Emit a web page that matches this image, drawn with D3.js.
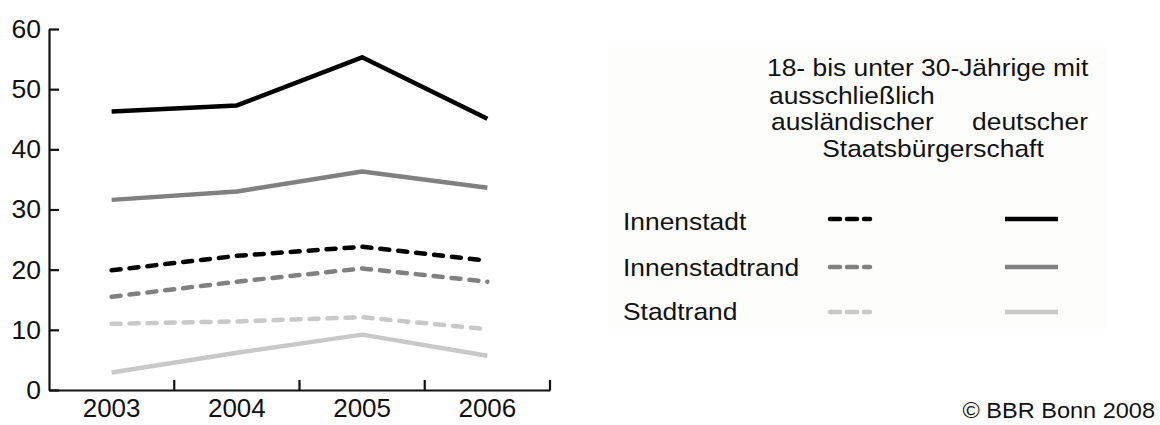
<!DOCTYPE html>
<html><head><meta charset="utf-8">
<script src="https://cdn.jsdelivr.net/npm/d3@7"></script>
<style>
html,body{margin:0;padding:0;background:#fff;}
svg{display:block;font-family:"Liberation Sans",Arial,sans-serif;}
</style></head><body>
<svg id="c" width="1160" height="425"></svg>
<script>
const years = ["2003","2004","2005","2006"];
const yTicks = [0,10,20,30,40,50,60];
const regions = ["Innenstadt","Innenstadtrand","Stadtrand"];
const regionColors = ["#000000","#808080","#c8c8c8"];
// ausschließlich deutsche Staatsbürgerschaft (solid)
const deutschInnenstadt = [46.3, 47.3, 55.3, 45.1];
const deutschInnenstadtrand = [31.6, 33.0, 36.3, 33.6];
const deutschStadtrand = [2.9, 6.2, 9.2, 5.7];
// ausschließlich ausländische Staatsbürgerschaft (dashed)
const auslInnenstadt = [19.9, 22.3, 23.8, 21.5];
const auslInnenstadtrand = [15.5, 18.0, 20.2, 18.0];
const auslStadtrand = [11.0, 11.4, 12.1, 10.1];
const titleLines = ["18- bis unter 30-Jährige mit","ausschließlich"];
const colLabels = ["ausländischer","deutscher"];
const titleLast = "Staatsbürgerschaft";
const credit = "© BBR Bonn 2008";

const series = [
  {values: auslStadtrand, region: 2, dashed: true},
  {values: deutschStadtrand, region: 2, dashed: false},
  {values: auslInnenstadtrand, region: 1, dashed: true},
  {values: deutschInnenstadtrand, region: 1, dashed: false},
  {values: auslInnenstadt, region: 0, dashed: true},
  {values: deutschInnenstadt, region: 0, dashed: false}
];

const svg = d3.select("#c");
svg.append("rect").attr("x",608).attr("y",46).attr("width",498).attr("height",283).attr("fill","#fdfdfc");

const x = d3.scaleBand().domain(years).range([49,550]);
const y = d3.scaleLinear().domain([0,60]).range([390,29]);

const txt = "#111";
const ya = svg.append("g").attr("transform","translate(49,0)")
  .call(d3.axisLeft(y).tickValues(yTicks).tickSizeInner(-10).tickSizeOuter(0).tickPadding(8));
ya.select(".domain").attr("stroke","#111").attr("stroke-width",2.2);
ya.selectAll(".tick line").attr("stroke","#111").attr("stroke-width",2.2);
ya.selectAll(".tick text").attr("font-size",26.5).attr("fill",txt).attr("font-family","Liberation Sans, Arial, sans-serif");

const xa = svg.append("g").attr("transform","translate(0,390)")
  .call(d3.axisBottom(x).tickSize(0).tickPadding(9));
xa.select(".domain").attr("stroke","#111").attr("stroke-width",2.2);
xa.selectAll(".tick text").attr("font-size",26).attr("fill",txt).attr("font-family","Liberation Sans, Arial, sans-serif");
const bounds = years.slice(1).map(d=>x(d)).concat([x.range()[1]]);
svg.append("g").selectAll("line").data(bounds).join("line")
  .attr("x1",d=>d).attr("x2",d=>d).attr("y1",390).attr("y2",380)
  .attr("stroke","#111").attr("stroke-width",2.2);

const line = d3.line().x((d,i)=>x(years[i])+x.bandwidth()/2).y(d=>y(d));
svg.append("g").selectAll("path").data(series).join("path")
  .attr("d",d=>line(d.values))
  .attr("fill","none")
  .attr("stroke",d=>regionColors[d.region])
  .attr("stroke-width",4.5)
  .attr("stroke-linejoin","round")
  .attr("stroke-linecap",d=>d.dashed?"round":"butt")
  .attr("stroke-dasharray",d=>d.dashed?"9,9":null);

// legend (text slightly widened like the reference)
const lg = svg.append("g").attr("font-size",24).attr("fill","#111");
function wtext(xp, yp, s, anchor){
  return lg.append("text").attr("transform",`translate(${xp},${yp}) scale(1.1,1)`)
    .attr("text-anchor",anchor||"start").text(s);
}
wtext(767,76,titleLines[0]);
wtext(769,104,titleLines[1]);
wtext(771,130,colLabels[0]);
wtext(1088,130,colLabels[1],"end");
wtext(933,157,titleLast,"middle");

const rowY = [219, 267, 312];
const rowTextY = [230, 276, 320];
regions.forEach((r,i)=>{
  wtext(623,rowTextY[i],r);
  lg.append("line").attr("x1",830).attr("x2",870).attr("y1",rowY[i]).attr("y2",rowY[i])
    .attr("stroke",regionColors[i]).attr("stroke-width",4.5).attr("stroke-linecap","round").attr("stroke-dasharray","10,7");
  lg.append("line").attr("x1",1005).attr("x2",1058).attr("y1",rowY[i]).attr("y2",rowY[i])
    .attr("stroke",regionColors[i]).attr("stroke-width",4.5);
});

svg.append("text").attr("transform","translate(1155,418) scale(1.07,1)").attr("text-anchor","end")
  .attr("font-size",22).attr("fill","#111").text(credit);
</script>
</body></html>
